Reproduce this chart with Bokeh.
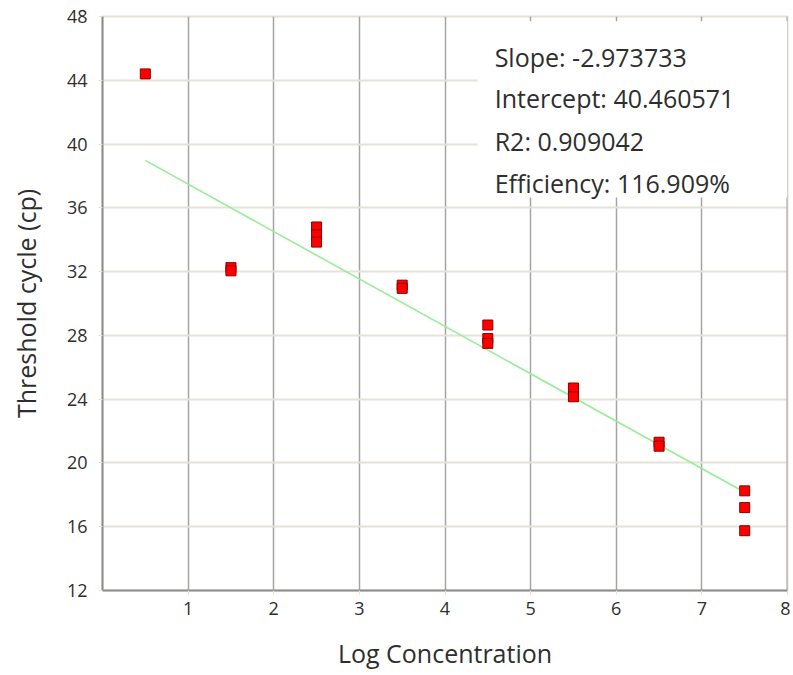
from bokeh.plotting import figure
from bokeh.models import BoxAnnotation, Label, Span, FixedTicker, Range1d
from bokeh.embed import file_html
from bokeh.resources import INLINE

# ---- data ----
log_conc = [0.5, 1.5, 1.5, 2.5, 2.5, 2.5, 3.5, 3.5, 4.5, 4.5, 4.5,
            5.5, 5.5, 6.5, 6.5, 7.5, 7.5, 7.5]
threshold_cycle = [44.4, 32.25, 32.05, 34.8, 34.3, 33.85, 31.15, 30.95,
                   28.65, 27.8, 27.5, 24.7, 24.15, 21.3, 21.05, 18.25, 17.2, 15.75]
slope = -2.973733
intercept = 40.460571
r2 = 0.909042
efficiency = 116.909
fit_x = [0.5, 7.5]
x_ticks = [1, 2, 3, 4, 5, 6, 7, 8]
y_ticks = [12, 16, 20, 24, 28, 32, 36, 40, 44, 48]

FONT = "Open Sans"
TXT = "#2e2e2e"

p = figure(width=790, height=672, output_backend="svg", toolbar_location=None,
           x_range=Range1d(0, 8), y_range=Range1d(12, 48),
           min_border_left=102, min_border_right=3, min_border_top=16, min_border_bottom=79,
           background_fill_color="white", border_fill_color="white")

p.outline_line_color = "#e6e2d2"
p.outline_line_width = 2

# axes
p.xaxis.ticker = FixedTicker(ticks=x_ticks)
p.yaxis.ticker = FixedTicker(ticks=y_ticks)
p.xaxis.axis_label = "Log Concentration"
p.yaxis.axis_label = "Threshold cycle (cp)"
for ax in (p.xaxis, p.yaxis):
    ax.axis_line_color = "#8c8c8c"
    ax.axis_line_width = 2
    ax.major_tick_line_color = "#e6e2d2"
    ax.major_tick_in = 0
    ax.major_tick_out = 4
    ax.minor_tick_line_color = None
    ax.major_label_text_font = FONT
    ax.major_label_text_font_size = "18px"
    ax.major_label_text_color = TXT
    ax.axis_label_text_font = FONT
    ax.axis_label_text_font_size = "25px"
    ax.axis_label_text_font_style = "normal"
    ax.axis_label_text_color = TXT
p.xaxis.major_label_standoff = 7
p.xaxis.axis_label_standoff = 18
p.yaxis.major_label_standoff = 11
p.yaxis.axis_label_standoff = 21

# grids
p.xgrid.grid_line_color = "#a4a4a4"
p.xgrid.grid_line_width = 1.5
p.ygrid.grid_line_color = "#e6e2d6"
p.ygrid.grid_line_width = 2

# right frame edge in gray
p.add_layout(Span(location=8, dimension="height", line_color="#a4a4a4", line_width=2))

# regression line
fit_y = [intercept + slope * xv for xv in fit_x]
p.line(fit_x, fit_y, line_color="#98ee98", line_width=1.6)

# data points
p.scatter(log_conc, threshold_cycle, marker="square", size=10,
          fill_color="#ff0000", line_color="#8a0000", line_width=1)

# statistics box
p.add_layout(BoxAnnotation(left=4.38, right=8, bottom=36.65, top=47.7,
                           fill_color="white", fill_alpha=1, line_color=None))
lines = [f"Slope: {slope:.6f}",
         f"Intercept: {intercept:.6f}",
         f"R2: {r2:.6f}",
         f"Efficiency: {efficiency:.3f}%"]
ys = [45.44, 42.88, 40.2, 37.58]
for t, yv in zip(lines, ys):
    p.add_layout(Label(x=4.58, y=yv, text=t, text_font=FONT, text_font_size="25px",
                       text_color=TXT, text_baseline="middle", text_align="left"))

open("out.html", "w").write(file_html(p, INLINE))
